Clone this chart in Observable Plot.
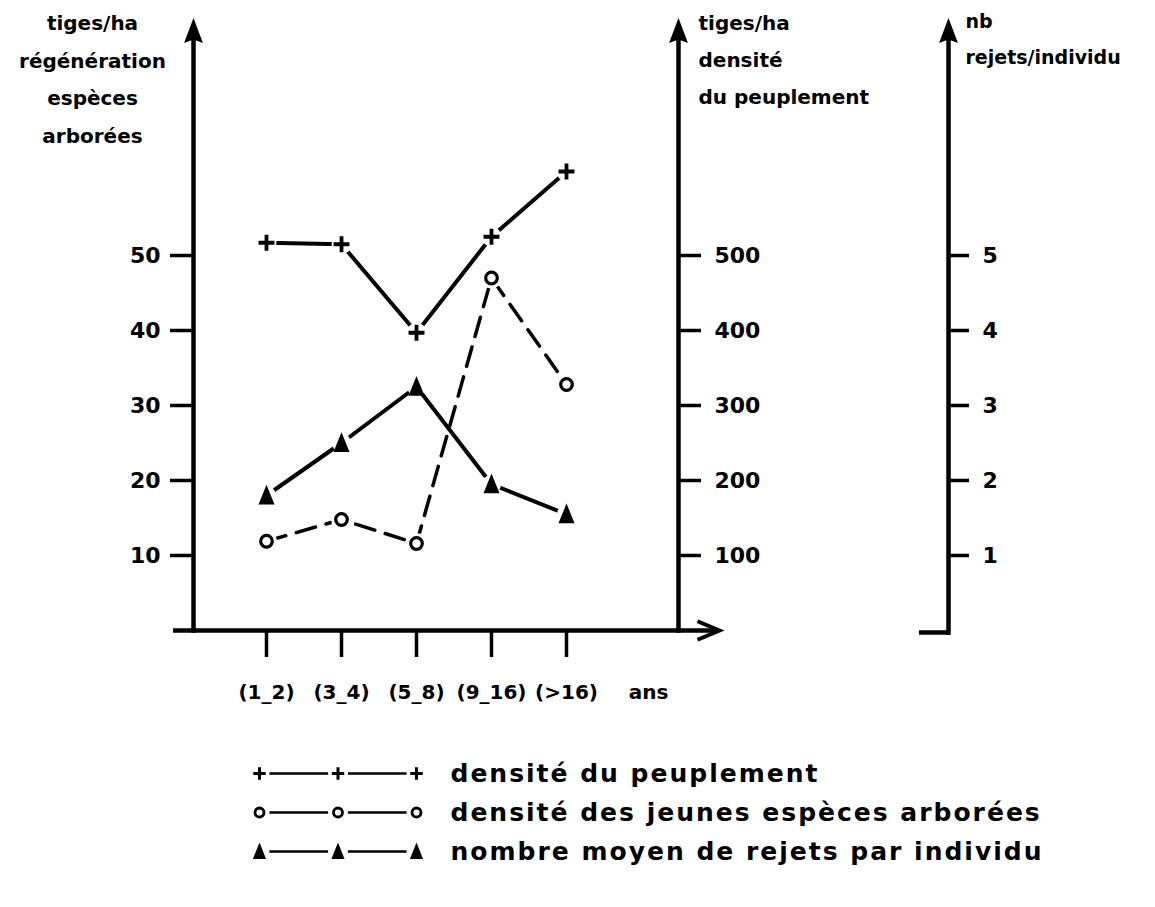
<!DOCTYPE html>
<html><head><meta charset="utf-8">
<script src="https://cdn.jsdelivr.net/npm/d3@7"></script>
<script src="https://cdn.jsdelivr.net/npm/@observablehq/plot@0.6"></script>
<style>
body{margin:0;background:#fff;}
#chart svg{display:block}
#legend text{letter-spacing:2px}
</style></head><body><div id="chart"></div><div id="legend"></div>
<script>
// ---- data ----
const classes = ["(1_2)", "(3_4)", "(5_8)", "(9_16)", "(>16)"];
const densitePeuplement = [517, 515, 397, 525, 612];   // tiges/ha (middle axis)
const densiteJeunes = [11.9, 14.8, 11.6, 47.0, 32.8];  // tiges/ha (left axis)
const rejetsParIndividu = [1.8, 2.5, 3.25, 1.95, 1.55]; // nb rejets/individu (right axis)
const leftTicks = [10, 20, 30, 40, 50];
const midTicks = [100, 200, 300, 400, 500];
const rightTicks = [1, 2, 3, 4, 5];
const leftTitle = ["tiges/ha", "régénération", "espèces", "arborées"];
const midTitle = ["tiges/ha", "densité", "du peuplement"];
const rightTitle = ["nb", "rejets/individu"];
const xUnit = "ans";
const legendLabels = ["densité du peuplement", "densité des jeunes espèces arborées", "nombre moyen de rejets par individu"];
const legendSteps = [0, 1, 2];

// common scale = left-axis units
const midFactor = 10;   // 100 tiges/ha (middle) <-> 10 (left)
const rightFactor = 10; // 1 rejet (right) <-> 10 (left)

const peup = classes.map((c, i) => ({classe: c, v: densitePeuplement[i] / midFactor}));
const jeun = classes.map((c, i) => ({classe: c, v: densiteJeunes[i]}));
const rej = classes.map((c, i) => ({classe: c, v: rejetsParIndividu[i] * rightFactor}));

// ---- symbols ----
const plusSym = {draw(ctx, size) { const r = Math.sqrt(size) * 0.5; ctx.moveTo(-r, 0); ctx.lineTo(r, 0); ctx.moveTo(0, -r); ctx.lineTo(0, r); }};
const triSym = {draw(ctx, size) { const s = Math.sqrt(size); ctx.moveTo(0, -0.72 * s); ctx.lineTo(0.53 * s, 0.6 * s); ctx.lineTo(-0.53 * s, 0.6 * s); ctx.closePath(); }};
const arrowUp = {draw(ctx, size) { const s = Math.sqrt(size); ctx.moveTo(0, -0.5 * s); ctx.lineTo(0.38 * s, 0.5 * s); ctx.lineTo(0, 0.36 * s); ctx.lineTo(-0.38 * s, 0.5 * s); ctx.closePath(); }};
const chevron = {draw(ctx, size) { const s = Math.sqrt(size); ctx.moveTo(-0.5 * s, -0.42 * s); ctx.lineTo(0.5 * s, 0); ctx.lineTo(-0.5 * s, 0.42 * s); }};

const W = 1155, H1 = 730, H2 = 907 - H1;
const font = "DejaVu Sans";
const rightDx = 270;

const chart = Plot.plot({
  width: W, height: H1,
  marginLeft: 193, marginRight: W - 678, marginTop: 30, marginBottom: H1 - 630,
  x: {type: "point", domain: classes, range: [265, 567], padding: 0, axis: null},
  y: {domain: [0, 80], axis: null},
  style: {fontFamily: font, fontWeight: "bold", color: "black", background: "white"},
  marks: [
    // axis lines
    Plot.frame({anchor: "left", strokeWidth: 4.5}),
    Plot.frame({anchor: "right", strokeWidth: 4.5}),
    Plot.frame({anchor: "right", insetRight: -rightDx, insetBottom: -2, strokeWidth: 4.5}),
    Plot.ruleY([0], {insetLeft: -20, insetRight: -38, strokeWidth: 4.5}),
    Plot.ruleY([0], {insetLeft: 726, insetRight: -rightDx - 2, dy: 2, strokeWidth: 4.5}),
    // arrow heads
    Plot.dot([0], {frameAnchor: "top-left", symbol: arrowUp, r: 14, fill: "black", stroke: "none"}),
    Plot.dot([0], {frameAnchor: "top-right", symbol: arrowUp, r: 14, fill: "black", stroke: "none"}),
    Plot.dot([0], {frameAnchor: "top-right", dx: rightDx, symbol: arrowUp, r: 14, fill: "black", stroke: "none"}),
    Plot.dot([0], {frameAnchor: "bottom-right", dx: 30, symbol: chevron, r: 12.4, fill: "none", stroke: "black", strokeWidth: 4}),
    // axes
    Plot.axisY({ticks: leftTicks, anchor: "left", tickSize: 23, tickPadding: 10, strokeWidth: 3.5, fontSize: 22, label: null}),
    Plot.axisY({ticks: midTicks.map(v => v / midFactor), anchor: "right", tickFormat: d => String(Math.round(d * midFactor)), tickSize: 22, tickPadding: 14, strokeWidth: 3.5, fontSize: 22, label: null}),
    Plot.axisY({ticks: rightTicks.map(v => v * rightFactor), anchor: "right", dx: rightDx, tickFormat: d => String(Math.round(d / rightFactor)), tickSize: 20, tickPadding: 14, strokeWidth: 3.5, fontSize: 22, label: null}),
    Plot.axisX({anchor: "bottom", tickSize: 27, tickPadding: 27, strokeWidth: 3.5, fontSize: 20, label: null}),
    Plot.text([xUnit], {frameAnchor: "bottom-right", dx: -10, dy: 68, textAnchor: "end", fontSize: 20, fontWeight: "bold"}),
    // axis titles
    Plot.text([leftTitle.join("\n")], {frameAnchor: "top-left", dx: -101, dy: -27, textAnchor: "middle", lineAnchor: "top", lineHeight: 1.88, fontSize: 20, fontWeight: "bold"}),
    Plot.text([midTitle.join("\n")], {frameAnchor: "top-right", dx: 20, dy: -27, textAnchor: "start", lineAnchor: "top", lineHeight: 1.85, fontSize: 20, fontWeight: "bold"}),
    Plot.text([rightTitle.join("\n")], {frameAnchor: "top-right", dx: rightDx + 17, dy: -27, textAnchor: "start", lineAnchor: "top", lineHeight: 1.85, fontSize: 19, fontWeight: "bold"}),
    // series
    Plot.line(peup, {x: "classe", y: "v", stroke: "black", strokeWidth: 4}),
    Plot.line(jeun, {x: "classe", y: "v", stroke: "black", strokeWidth: 3.5, strokeDasharray: "20,11"}),
    Plot.line(rej, {x: "classe", y: "v", stroke: "black", strokeWidth: 4}),
    // gaps around markers
    Plot.dot(peup, {x: "classe", y: "v", r: 10, fill: "white", stroke: "none"}),
    Plot.dot(jeun, {x: "classe", y: "v", r: 10.5, fill: "white", stroke: "none"}),
    Plot.dot(rej, {x: "classe", y: "v", r: 9.5, fill: "white", stroke: "none"}),
    // markers
    Plot.dot(peup, {x: "classe", y: "v", symbol: plusSym, r: 9, fill: "none", stroke: "black", strokeWidth: 3.8}),
    Plot.dot(jeun, {x: "classe", y: "v", r: 5.8, fill: "white", stroke: "black", strokeWidth: 3.2}),
    Plot.dot(rej, {x: "classe", y: "v", symbol: triSym, r: 8.5, fill: "black", stroke: "none"})
  ]
});
document.getElementById("chart").appendChild(chart);

// ---- legend ----
const legendData = legendLabels.flatMap(label => legendSteps.map(step => ({label, step})));
const legendSymbols = [
  {symbol: plusSym, r: 7, fill: "none", stroke: "black", strokeWidth: 3},
  {symbol: "circle", r: 4.5, fill: "white", stroke: "black", strokeWidth: 2.8},
  {symbol: triSym, r: 7, fill: "black", stroke: "none"}
];
const legend = Plot.plot({
  width: W, height: H2,
  marginLeft: 0, marginRight: 0, marginTop: 0, marginBottom: 0,
  x: {domain: [0, 2], range: [259, 416], axis: null},
  y: {type: "point", domain: legendLabels, range: [42, 121], padding: 0, axis: null},
  style: {fontFamily: font, color: "black", background: "white"},
  marks: [
    Plot.line(legendData, {x: "step", y: "label", z: "label", stroke: "black", strokeWidth: 2.5}),
    Plot.dot(legendData, {x: "step", y: "label", r: 10, fill: "white", stroke: "none"}),
    ...legendLabels.map((label, i) => Plot.dot(legendData.filter(d => d.label === label), {x: "step", y: "label", ...legendSymbols[i]})),
    Plot.text(legendLabels, {x: () => legendSteps[legendSteps.length - 1], y: d => d, dx: 34, textAnchor: "start", fontSize: 25, fontWeight: "bold"})
  ]
});
document.getElementById("legend").appendChild(legend);
</script>
</body></html>
